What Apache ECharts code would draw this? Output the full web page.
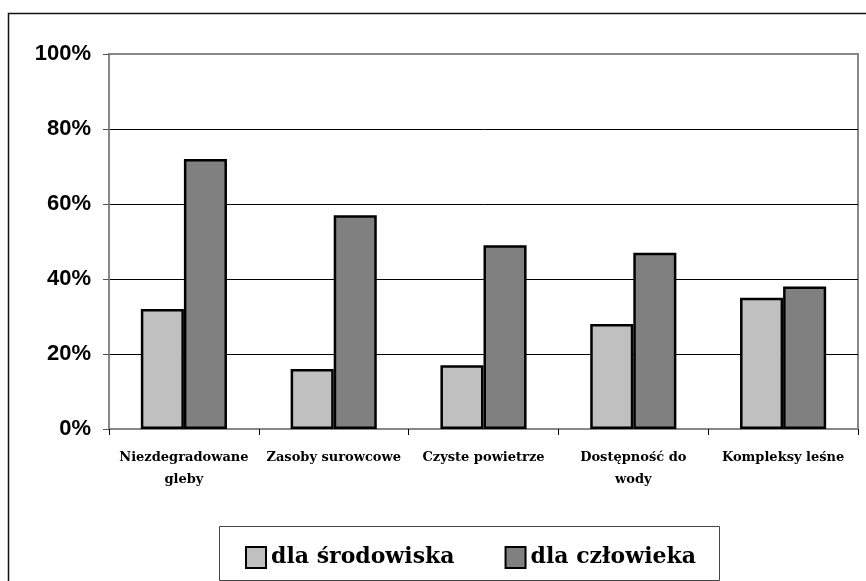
<!DOCTYPE html>
<html><head><meta charset="utf-8">
<script src="https://cdn.jsdelivr.net/npm/echarts@6/dist/echarts.min.js"></script>
<style>html,body{margin:0;padding:0;background:#fff}#c{width:866px;height:581px}</style>
</head><body><div id="c"></div>
<script>
var categories = ['Niezdegradowane\ngleby', 'Zasoby surowcowe', 'Czyste powietrze', 'Dostępność do\nwody', 'Kompleksy leśne'];
var seriesNames = ['dla środowiska', 'dla człowieka'];
var envValues = [32, 16, 17, 28, 35];
var humanValues = [72, 57, 49, 47, 38];
var yTicks = [0, 20, 40, 60, 80, 100];

var chart = echarts.init(document.getElementById('c'), null, {renderer: 'canvas'});
var barBorder = {borderColor: '#000', borderWidth: 2.5};
chart.setOption({
  backgroundColor: '#fff',
  animation: false,
  graphic: [
    {type: 'rect', shape: {x: 8.5, y: 13.5, width: 900, height: 700}, style: {fill: 'none', stroke: '#111', lineWidth: 1.5}, z: -1},
    {type: 'rect', shape: {x: 219.5, y: 526.5, width: 500, height: 54}, style: {fill: '#fff', stroke: '#444', lineWidth: 1}, z: 1}
  ],
  grid: {left: 109, right: 8, top: 54, bottom: 152, show: true, borderColor: '#888', borderWidth: 2, backgroundColor: 'transparent'},
  legend: {
    data: [
      {name: seriesNames[0], itemStyle: {color: '#C0C0C0', borderColor: '#000', borderWidth: 2}},
      {name: seriesNames[1], itemStyle: {color: '#808080', borderColor: '#000', borderWidth: 2}}
    ],
    left: 240, top: 541, icon: 'rect', itemWidth: 20, itemHeight: 21, itemGap: 50,
    textStyle: {fontFamily: 'DejaVu Serif', fontWeight: 'bold', fontSize: 22, color: '#000', padding: [0, 0, 0, 0]},
    z: 5
  },
  xAxis: {
    type: 'category', data: categories,
    axisLine: {lineStyle: {color: '#888', width: 2}},
    axisTick: {show: true, length: 6, lineStyle: {color: '#000', width: 1}},
    axisLabel: {fontFamily: 'DejaVu Serif', fontWeight: 'bold', fontSize: 13, color: '#000', margin: 18, lineHeight: 22, interval: 0}
  },
  yAxis: {
    type: 'value', min: 0, max: 100, interval: 20,
    axisLine: {show: true, lineStyle: {color: '#888', width: 2}},
    axisTick: {show: true, length: 6, lineStyle: {color: '#555', width: 1}},
    axisLabel: {formatter: function (v) { return yTicks.indexOf(v) >= 0 ? v + '%' : ''; }, fontFamily: 'Liberation Sans', fontWeight: 'bold', fontSize: 22, color: '#000', margin: 18},
    splitLine: {show: true, lineStyle: {color: ['#888', '#000', '#000', '#000', '#000', '#888'], width: 1}}
  },
  series: [
    {name: seriesNames[0], type: 'bar', data: envValues, barGap: '0%', barCategoryGap: '42.5%', itemStyle: Object.assign({color: '#C0C0C0'}, barBorder)},
    {name: seriesNames[1], type: 'bar', data: humanValues, barGap: '0%', barCategoryGap: '42.5%', itemStyle: Object.assign({color: '#808080'}, barBorder)}
  ]
});
</script></body></html>
